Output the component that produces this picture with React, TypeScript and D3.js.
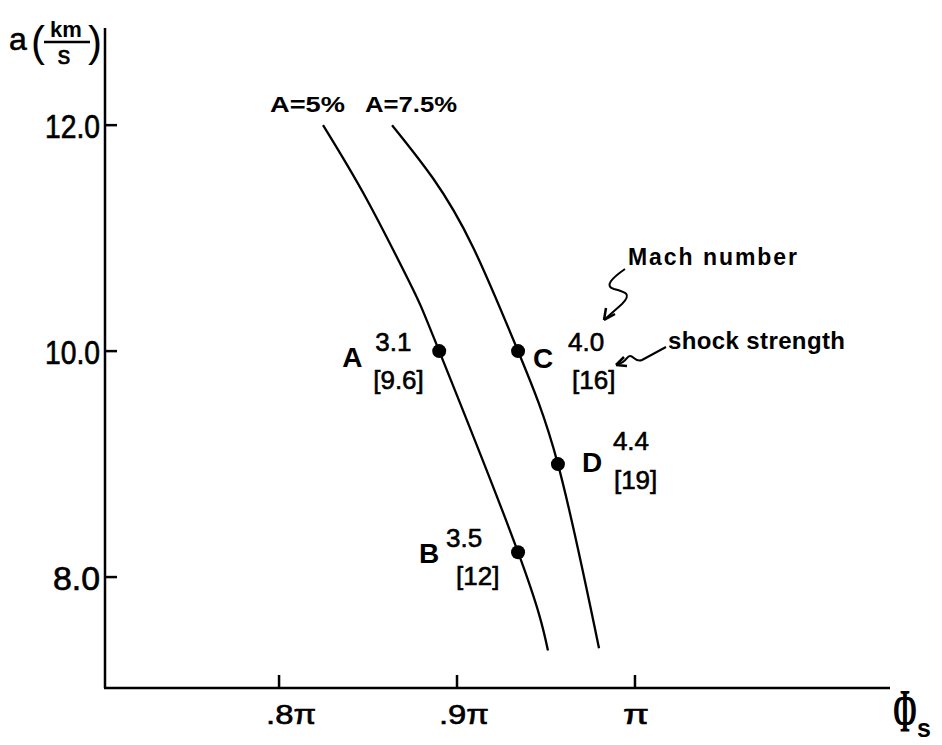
import React from 'react';
import * as d3 from 'd3';

// curve A = 5%  (phi in units of pi, a in km/s)
const phiA5 = [0.8247, 0.8494, 0.8736, 0.89, 0.9343, 0.9511];
const aA5 = [12.0, 11.34, 10.6, 10.0, 8.22, 7.35];

// curve A = 7.5%
const phiA75 = [0.8635, 0.8865, 0.909, 0.9343, 0.9567, 0.9798];
const aA75 = [12.0, 11.53, 10.92, 10.0, 9.0, 7.37];

const curveNames = ['A=5%', 'A=7.5%'];

// marked points
const pointNames = ['A', 'B', 'C', 'D'];
const pointPhi = [0.89, 0.9343, 0.9343, 0.9567];
const pointA = [10.0, 8.22, 10.0, 9.0];
const machNumbers = ['3.1', '3.5', '4.0', '4.4'];
const shockStrengths = ['[9.6]', '[12]', '[16]', '[19]'];

const xTicks = [0.8, 0.9, 1.0];
const xTickLabels = ['.8\u03c0', '.9\u03c0', '\u03c0'];
const yTicks = [8, 10, 12];
const yTickLabels = ['8.0', '10.0', '12.0'];

const W = 942;
const H = 745;
const font = "'Liberation Sans', Arial, sans-serif";

export default function App() {
  const x = d3.scaleLinear().domain([0.7022, 1.1433]).range([105, 890]);
  const y = d3.scaleLinear().domain([7.018, 12.86]).range([688, 28]);

  const line = d3
    .line<[number, number]>()
    .x(d => x(d[0]))
    .y(d => y(d[1]))
    .curve(d3.curveNatural);

  const c1 = phiA5.map((p, i) => [p, aA5[i]] as [number, number]);
  const c2 = phiA75.map((p, i) => [p, aA75[i]] as [number, number]);

  // label offsets relative to each dot: [letter dx, dy, mach dx, dy, shock dx, dy]
  const offs = [
    [-97, 16, -64, 0, -66, 38],
    [-99, 11, -72, -5, -62, 33],
    [15, 17, 50, 0, 54, 38],
    [24, 8, 55, -14, 56, 25],
  ];
  const xLabelShift = [12, 7, 1];

  return (
    <svg width={W} height={H} style={{ position: 'absolute', left: 0, top: 0, background: '#fff' }}>
      {/* axes */}
      <line x1={x.range()[0]} x2={x.range()[0]} y1={y.range()[1]} y2={y.range()[0]} stroke="#000" strokeWidth={2.5} />
      <line x1={x.range()[0] - 1} x2={x.range()[1]} y1={y.range()[0]} y2={y.range()[0]} stroke="#000" strokeWidth={2.5} />

      {yTicks.map((t, i) => (
        <g key={'y' + t}>
          <line x1={x.range()[0]} x2={x.range()[0] + 12} y1={y(t)} y2={y(t)} stroke="#000" strokeWidth={2.5} />
          <text x={100} y={y(t) + 13} textAnchor="end" fontFamily={font} fontSize={34}
            stroke="#000" strokeWidth={0.7}
            textLength={t >= 10 ? 55 : 47} lengthAdjust="spacingAndGlyphs">
            {yTickLabels[i]}
          </text>
        </g>
      ))}

      {xTicks.map((t, i) => (
        <g key={'x' + t}>
          <line x1={x(t)} x2={x(t)} y1={y.range()[0]} y2={y.range()[0] - 13} stroke="#000" strokeWidth={2.5} />
          <text x={x(t) + xLabelShift[i]} y={724} textAnchor="middle" fontFamily={font} fontSize={27}
            stroke="#000" strokeWidth={0.6}
            textLength={i < 2 ? 50 : 26} lengthAdjust="spacingAndGlyphs">
            {xTickLabels[i]}
          </text>
        </g>
      ))}

      {/* y axis title a(km/s) */}
      <g fontFamily={font} stroke="#000" strokeWidth={0.6}>
        <text x={9} y={50} fontSize={32}>a</text>
        <text x={31} y={56} fontSize={42} strokeWidth={0}>(</text>
        <text x={66} y={37} fontSize={22} textAnchor="middle" fontWeight="bold" strokeWidth={0}>km</text>
        <line x1={44} x2={90} y1={42} y2={42} strokeWidth={2.5} />
        <text x={64} y={64} fontSize={25} textAnchor="middle">s</text>
        <text x={88} y={56} fontSize={42} strokeWidth={0}>)</text>
      </g>

      {/* x axis title */}
      <text transform="translate(905,731) scale(0.72,1.55)" textAnchor="middle"
        fontFamily="'Liberation Serif', serif" fontWeight="bold" fontSize={40}>
        {'\u03a6'}
      </text>
      <text x={917} y={737} fontFamily={font} fontWeight="bold" fontSize={25}>s</text>

      {/* curves */}
      {[c1, c2].map((c, i) => (
        <path key={'c' + i} d={line(c) || ''} fill="none" stroke="#000" strokeWidth={2.3} />
      ))}
      <text x={x(phiA5[0]) - 53} y={y(aA5[0]) - 13} fontFamily={font} fontWeight="bold" fontSize={22}
        textLength={75} lengthAdjust="spacingAndGlyphs">{curveNames[0]}</text>
      <text x={x(phiA75[0]) - 27} y={y(aA75[0]) - 13} fontFamily={font} fontWeight="bold" fontSize={22}
        textLength={92} lengthAdjust="spacingAndGlyphs">{curveNames[1]}</text>

      {/* marked points */}
      {pointNames.map((n, i) => {
        const px = x(pointPhi[i]);
        const py = y(pointA[i]);
        const o = offs[i];
        return (
          <g key={n} fontFamily={font}>
            <circle cx={px} cy={py} r={7} fill="#000" />
            <text x={px + o[0]} y={py + o[1]} fontSize={28} fontWeight="bold">{n}</text>
            <text x={px + o[2]} y={py + o[3]} fontSize={26} stroke="#000" strokeWidth={0.6}>{machNumbers[i]}</text>
            <text x={px + o[4]} y={py + o[5]} fontSize={26} stroke="#000" strokeWidth={0.6}>{shockStrengths[i]}</text>
          </g>
        );
      })}

      {/* annotations */}
      <text x={628} y={265} fontFamily={font} fontWeight="bold" fontSize={23}
        textLength={169} lengthAdjust="spacing">Mach number</text>
      <path d="M625,269 C612,278 604,286 614,289 C626,292 632,294 622,304 L604,320"
        fill="none" stroke="#000" strokeWidth={2} />
      <path d="M604,320 L606,308 M604,320 L615,314" fill="none" stroke="#000" strokeWidth={2.5} />

      <text x={668} y={349} fontFamily={font} fontWeight="bold" fontSize={24}
        textLength={177} lengthAdjust="spacing">shock strength</text>
      <path d="M666,347 L642,360 C636,363 634,356 630,356 C626,356 628,362 616,365"
        fill="none" stroke="#000" strokeWidth={2} />
      <path d="M616,365 L624,357 M616,365 L627,366" fill="none" stroke="#000" strokeWidth={2.5} />
    </svg>
  );
}
